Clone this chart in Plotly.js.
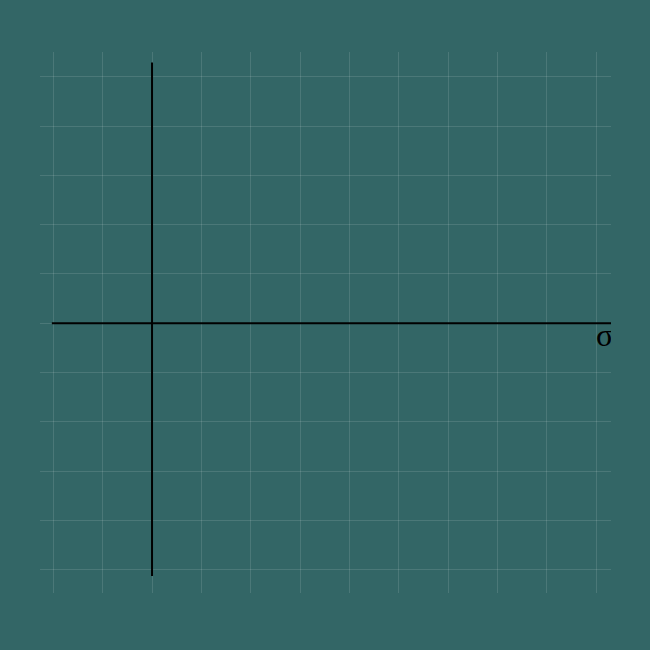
<!DOCTYPE html>
<html>
<head>
<meta charset="utf-8">
<script src="https://cdn.plot.ly/plotly-3.0.1.min.js"></script>
<style>
  html, body { margin: 0; padding: 0; background: #336666; }
  #chart { width: 650px; height: 650px; }
</style>
</head>
<body>
<div id="chart"></div>
<script>
// axis segments in grid units (one grid square = 1)
const xAxisX = [-2.03, 9.32];
const xAxisY = [0, 0];
const yAxisX = [0, 0];
const yAxisY = [5.29, -5.13];
const labelX = [9.17];
const labelY = [-0.3];
const labelText = ['σ'];

const chartDiv = document.getElementById('chart');

Plotly.newPlot(chartDiv, [
  {
    x: xAxisX, y: xAxisY,
    type: 'scatter', mode: 'lines',
    line: { color: '#000', width: 2 },
    hoverinfo: 'skip',
  },
  {
    x: yAxisX, y: yAxisY,
    type: 'scatter', mode: 'lines',
    line: { color: '#000', width: 2 },
    hoverinfo: 'skip',
  },
  {
    x: labelX, y: labelY, text: labelText,
    type: 'scatter', mode: 'text',
    textfont: { family: 'Liberation Serif, serif', size: 32, color: '#000' },
    hoverinfo: 'skip',
  },
], {
  width: 650,
  height: 650,
  paper_bgcolor: '#336666',
  plot_bgcolor: '#336666',
  margin: { t: 52, r: 39, b: 57, l: 40 },
  showlegend: false,
  xaxis: {
    range: [-2.27, 9.3],
    tick0: 0, dtick: 1,
    showgrid: true, gridcolor: 'rgba(255,255,255,0.12)', gridwidth: 1,
    zeroline: false, showticklabels: false, ticks: '', showline: false,
    fixedrange: true,
  },
  yaxis: {
    range: [-5.475, 5.505],
    tick0: 0, dtick: 1,
    showgrid: true, gridcolor: 'rgba(255,255,255,0.12)', gridwidth: 1,
    zeroline: false, showticklabels: false, ticks: '', showline: false,
    fixedrange: true,
  },
}, { displayModeBar: false, staticPlot: true });
</script>
</body>
</html>
